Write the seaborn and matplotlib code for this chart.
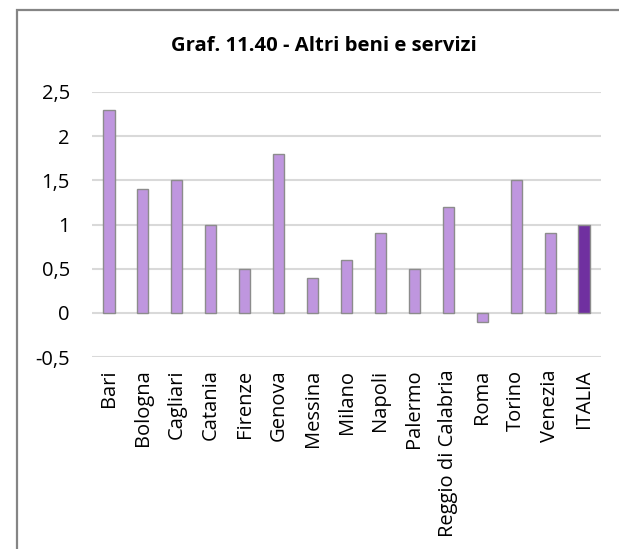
import matplotlib
matplotlib.use("Agg")
import matplotlib.pyplot as plt
from matplotlib.patches import Rectangle
import seaborn as sns
import pandas as pd

cities = ["Bari", "Bologna", "Cagliari", "Catania", "Firenze", "Genova", "Messina",
          "Milano", "Napoli", "Palermo", "Reggio di Calabria", "Roma", "Torino",
          "Venezia", "ITALIA"]
values = [2.3, 1.4, 1.5, 1.0, 0.5, 1.8, 0.4, 0.6, 0.9, 0.5, 1.2, -0.1, 1.5, 0.9, 1.0]
yticks = [-0.5, 0, 0.5, 1, 1.5, 2, 2.5]
ytick_labels = ["-0,5", "0", "0,5", "1", "1,5", "2", "2,5"]

light = "#BF96DF"
dark = "#7030A0"
colors = {c: (dark if c == "ITALIA" else light) for c in cities}

df = pd.DataFrame({"city": cities, "value": values})

sns.set_theme(style="white")
plt.rcParams["font.family"] = ["Open Sans", "DejaVu Sans"]

fig = plt.figure(figsize=(6.19, 5.49), dpi=100)
ax = fig.add_axes([92 / 619, 1 - 357 / 549, (601 - 92) / 619, (357 - 92) / 549])

sns.barplot(data=df, x="city", y="value", hue="city", palette=colors, legend=False,
            saturation=1, width=0.33, edgecolor="#8c8c8c", linewidth=1.0,
            ax=ax, zorder=3)

ax.set_ylim(-0.5, 2.5)
ax.set_xlim(-0.5, len(cities) - 0.5)
ax.set_yticks(yticks)
ax.set_yticklabels(ytick_labels, fontsize=14.5, color="#000000")
ax.set_xticks(range(len(cities)))
ax.set_xticklabels(cities, rotation=90, fontsize=14.5, color="#000000")
ax.tick_params(axis="x", length=0, pad=9)
ax.tick_params(axis="y", length=0, pad=16)
ax.set_xlabel("")
ax.set_ylabel("")
ax.grid(axis="y", color="#d9d9d9", linewidth=1.5, zorder=0)
ax.grid(axis="x", visible=False)
for s in ax.spines.values():
    s.set_visible(False)

fig.text(324 / 619, 1 - 46 / 549, "Graf. 11.40 - Altri beni e servizi", ha="center",
         va="center", fontsize=14.6, fontweight="bold", color="#000000")

fig.patches.append(Rectangle((17 / 619, -0.1), 1.2, (549 - 10) / 549 + 0.1,
                             transform=fig.transFigure, fill=False,
                             edgecolor="#858585", linewidth=1.6))

fig.savefig("out.png", dpi=100)
